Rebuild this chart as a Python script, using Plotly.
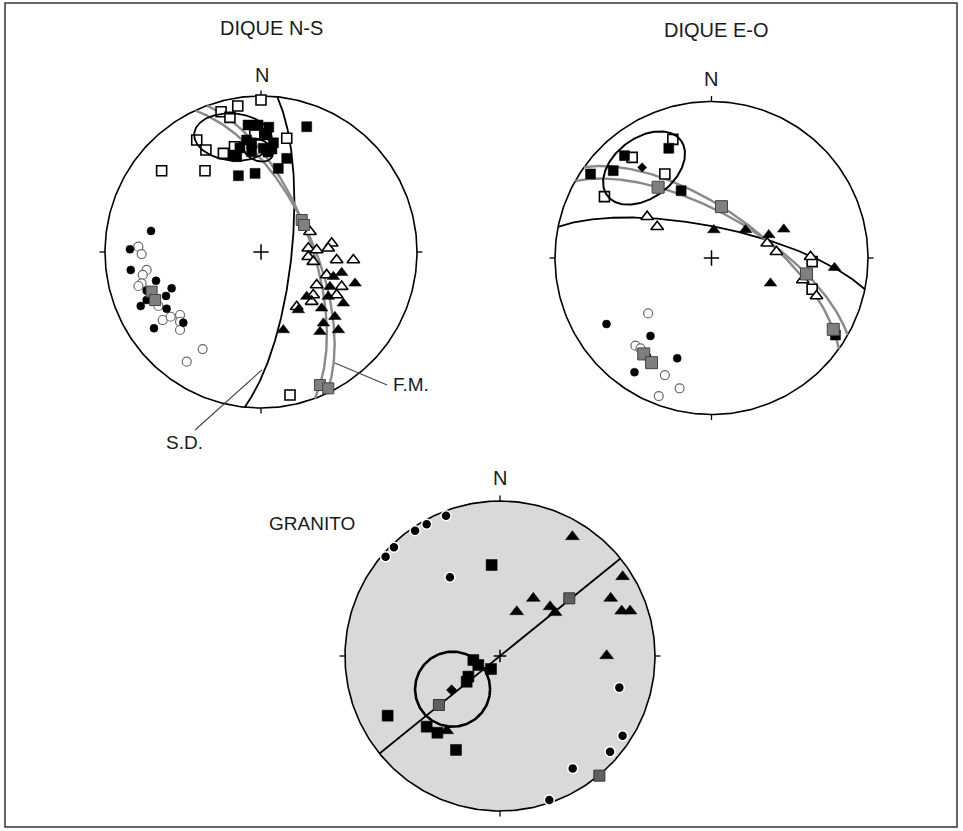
import numpy as np
import plotly.graph_objects as go

W, H = 963, 831

# ---------------- DATA (projected equal-area coordinates, unit primitive) ----------------
# DIQUE N-S
ns_open_sq_x = [0.0, -0.149, -0.256, -0.199, -0.412, -0.353, -0.241, -0.637, -0.359, 0.165, -0.038, 0.186, -0.154, -0.028, -0.04, -0.17]
ns_open_sq_y = [0.974, 0.936, 0.899, 0.863, 0.718, 0.654, 0.632, 0.521, 0.521, 0.729, 0.795, -0.917, 0.673, 0.803, 0.75, 0.675]
ns_fill_sq_x = [0.293, -0.145, -0.038, 0.165, 0.111, -0.019, 0.026, -0.083, 0.036, -0.177, 0.015, -0.06, -0.092, 0.045, -0.135, -0.06, 0.05, -0.156, 0.08, 0.07]
ns_fill_sq_y = [0.803, 0.489, 0.504, 0.600, 0.536, 0.814, 0.763, 0.814, 0.75, 0.622, 0.665, 0.697, 0.718, 0.641, 0.667, 0.643, 0.80, 0.611, 0.70, 0.66]
ns_gray_sq_x = [0.261, 0.276, 0.378, 0.431, -0.701, -0.679]
ns_gray_sq_y = [0.205, 0.173, -0.853, -0.874, -0.254, -0.308]
ns_open_tri_x = [0.314, 0.303, 0.357, 0.453, 0.431, 0.303, 0.335, 0.485, 0.592, 0.421, 0.357, 0.517, 0.485, 0.335, 0.325, 0.229]
ns_open_tri_y = [0.130, 0.024, 0.013, 0.056, 0.024, -0.030, -0.062, -0.051, -0.051, -0.147, -0.212, -0.222, -0.276, -0.276, -0.318, -0.351]
ns_fill_tri_x = [0.517, 0.464, 0.603, 0.442, 0.293, 0.528, 0.389, 0.239, 0.474, 0.400, 0.378, 0.496, 0.143, 0.431]
ns_fill_tri_y = [-0.133, -0.158, -0.201, -0.222, -0.286, -0.329, -0.361, -0.372, -0.415, -0.457, -0.511, -0.500, -0.500, -0.286]
ns_fill_circ_x = [-0.705, -0.840, -0.835, -0.673, -0.573, -0.733, -0.733, -0.609, -0.771, -0.605, -0.498, -0.686]
ns_fill_circ_y = [0.135, 0.017, -0.115, -0.184, -0.233, -0.248, -0.308, -0.282, -0.346, -0.363, -0.453, -0.489]
ns_open_circ_x = [-0.786, -0.765, -0.733, -0.758, -0.765, -0.786, -0.658, -0.630, -0.579, -0.519, -0.519, -0.519, -0.374, -0.476]
ns_open_circ_y = [0.034, -0.013, -0.115, -0.147, -0.201, -0.218, -0.346, -0.436, -0.415, -0.404, -0.447, -0.500, -0.622, -0.703]
# planes (strike, dip)
ns_sd_plane = (6, 74)
ns_fm_planes = [(335.1, 63.4), (339.8, 63.9)]
# confidence ellipses: centre x, centre y, semi-major, semi-minor, rotation (deg)
ns_ell_cx = [-0.179, -0.019]
ns_ell_cy = [0.737, 0.654]
ns_ell_a = [0.250, 0.100]
ns_ell_b = [0.151, 0.068]
ns_ell_rot = [-5, -25]

# DIQUE E-O
eo_open_sq_x = [-0.247, -0.507, -0.298, -0.684, 0.643, 0.643]
eo_open_sq_y = [0.758, 0.643, 0.537, 0.392, -0.023, -0.200]
eo_fill_sq_x = [-0.273, -0.556, -0.773, -0.628, -0.194, 0.792]
eo_fill_sq_y = [0.701, 0.654, 0.537, 0.558, 0.430, -0.492]
eo_gray_sq_x = [-0.341, 0.064, 0.607, 0.778, -0.433, -0.383]
eo_gray_sq_y = [0.452, 0.328, -0.102, -0.456, -0.613, -0.669]
eo_open_tri_x = [-0.347, -0.411, 0.356, 0.415, 0.633, 0.583, 0.671]
eo_open_tri_y = [0.200, 0.264, 0.094, 0.040, 0.008, -0.141, -0.243]
eo_fill_tri_x = [0.015, 0.217, 0.366, 0.462, 0.786, 0.377]
eo_fill_tri_y = [0.179, 0.179, 0.147, 0.183, -0.062, -0.162]
eo_fill_circ_x = [-0.671, -0.390, -0.219, -0.492, -0.411]
eo_fill_circ_y = [-0.422, -0.498, -0.641, -0.730, -0.631]
eo_open_circ_x = [-0.405, -0.486, -0.298, -0.204, -0.337, -0.454]
eo_open_circ_y = [-0.354, -0.560, -0.748, -0.833, -0.882, -0.577]
eo_mean_x = [-0.443]
eo_mean_y = [0.579]
eo_black_plane = (281.5, 73.7)
eo_fm_planes = [(305.5, 64.8), (299.5, 66.7)]
eo_ell_cx = [-0.431]
eo_ell_cy = [0.575]
eo_ell_a = [0.294]
eo_ell_b = [0.192]
eo_ell_rot = [37]

# GRANITO
gr_circ_x = [-0.348, -0.473, -0.548, -0.684, -0.738, -0.323, 0.770, 0.791, 0.710, 0.469, 0.318]
gr_circ_y = [0.905, 0.850, 0.808, 0.701, 0.641, 0.508, -0.204, -0.514, -0.617, -0.725, -0.929]
gr_sq_x = [-0.054, -0.725, -0.473, -0.404, -0.284, -0.172, -0.140, -0.058, -0.204, -0.215]
gr_sq_y = [0.587, -0.385, -0.456, -0.495, -0.606, -0.026, -0.058, -0.084, -0.133, -0.166]
gr_gray_sq_x = [0.447, 0.641, -0.394]
gr_gray_sq_y = [0.372, -0.772, -0.316]
gr_tri_x = [0.467, 0.791, 0.215, 0.108, 0.323, 0.355, 0.714, 0.785, 0.839, 0.688, -0.344]
gr_tri_y = [0.770, 0.512, 0.372, 0.286, 0.318, 0.280, 0.372, 0.290, 0.290, 0.002, -0.482]
gr_mean_x = [-0.312]
gr_mean_y = [-0.219]
gr_plane = (51, 90)
gr_ell_cx = [-0.306]
gr_ell_cy = [-0.214]
gr_ell_a = [0.242]
gr_ell_b = [0.242]
gr_ell_rot = [0]

# ---------------- geometry helpers ----------------
def proj(v):
    d = np.clip(v[:, 2], -0.999, 1)
    s = 1.0 / np.sqrt(1.0 + d)
    return v[:, 0] * s, v[:, 1] * s

def great_circle(strike, dip, n=241):
    s = np.radians(strike); dd = np.radians(strike + 90); dp = np.radians(dip)
    t = np.linspace(0, np.pi, n)
    sv = np.array([np.sin(s), np.cos(s), 0.0])
    dv = np.array([np.cos(dp) * np.sin(dd), np.cos(dp) * np.cos(dd), np.sin(dp)])
    v = np.outer(np.cos(t), sv) + np.outer(np.sin(t), dv)
    return proj(v)

def ellipse(cx, cy, a, b, rot, n=181):
    t = np.linspace(0, 2 * np.pi, n)
    r = np.radians(rot)
    ex, ey = a * np.cos(t), b * np.sin(t)
    return cx + ex * np.cos(r) - ey * np.sin(r), cy + ex * np.sin(r) + ey * np.cos(r)

tt = np.linspace(0, 2 * np.pi, 361)
prim_x, prim_y = np.sin(tt), np.cos(tt)
tick_x = [0, 0, None, 1, 1.035, None, 0, 0, None, -1, -1.035]
tick_y = [1, 1.035, None, 0, 0, None, -1, -1.035, None, 0, 0]

fig = go.Figure()

def ax(i):
    return ("x" if i == 1 else f"x{i}"), ("y" if i == 1 else f"y{i}")

def add(i, **kw):
    xa, ya = ax(i)
    fig.add_trace(go.Scatter(xaxis=xa, yaxis=ya, showlegend=False, hoverinfo="skip", cliponaxis=False, **kw))

def line(i, x, y, color="black", width=1.6):
    add(i, x=x, y=y, mode="lines", line=dict(color=color, width=width))

def pts(i, x, y, symbol, fill, edge, size, ew=1.3):
    add(i, x=x, y=y, mode="markers",
        marker=dict(symbol=symbol, color=fill, size=size, line=dict(color=edge, width=ew)))

def ellipses(i, cxs, cys, As, Bs, rots, width):
    for cx, cy, a, b, r in zip(cxs, cys, As, Bs, rots):
        x, y = ellipse(cx, cy, a, b, r)
        line(i, x, y, width=width)

GRAY_LINE = "#8a8a8a"
GRAY_SQ = "#7f7f7f"

# ---------- Stereonet 1 : DIQUE N-S ----------
line(1, prim_x, prim_y, width=1.6)
line(1, tick_x, tick_y, width=1.3)
x, y = great_circle(*ns_sd_plane); line(1, x, y, width=1.8)
for p in ns_fm_planes:
    x, y = great_circle(*p); line(1, x, y, color=GRAY_LINE, width=2.4)
pts(1, ns_open_circ_x, ns_open_circ_y, "circle", "white", "#6a6a6a", 9, 1.2)
pts(1, ns_fill_circ_x, ns_fill_circ_y, "circle", "black", "black", 8, 0.5)
pts(1, ns_open_sq_x, ns_open_sq_y, "square", "white", "black", 10, 1.6)
pts(1, ns_fill_sq_x, ns_fill_sq_y, "square", "black", "black", 10, 0.5)
pts(1, ns_open_tri_x, ns_open_tri_y, "triangle-up", "white", "black", 11, 1.6)
pts(1, ns_fill_tri_x, ns_fill_tri_y, "triangle-up", "black", "black", 11, 0.5)
ellipses(1, ns_ell_cx, ns_ell_cy, ns_ell_a, ns_ell_b, ns_ell_rot, 1.8)
pts(1, ns_gray_sq_x, ns_gray_sq_y, "square", GRAY_SQ, "#444", 11, 1)
pts(1, [0], [0], "cross-thin", "black", "black", 11, 1.5)

# ---------- Stereonet 2 : DIQUE E-O ----------
line(2, prim_x, prim_y, width=1.6)
line(2, tick_x, tick_y, width=1.3)
x, y = great_circle(*eo_black_plane); line(2, x, y, width=1.8)
for p in eo_fm_planes:
    x, y = great_circle(*p); line(2, x, y, color=GRAY_LINE, width=2.4)
pts(2, eo_open_circ_x, eo_open_circ_y, "circle", "white", "#6a6a6a", 9, 1.2)
pts(2, eo_fill_circ_x, eo_fill_circ_y, "circle", "black", "black", 8, 0.5)
pts(2, eo_open_sq_x, eo_open_sq_y, "square", "white", "black", 10, 1.6)
pts(2, eo_fill_sq_x, eo_fill_sq_y, "square", "black", "black", 10, 0.5)
pts(2, eo_open_tri_x, eo_open_tri_y, "triangle-up", "white", "black", 11, 1.6)
pts(2, eo_fill_tri_x, eo_fill_tri_y, "triangle-up", "black", "black", 11, 0.5)
ellipses(2, eo_ell_cx, eo_ell_cy, eo_ell_a, eo_ell_b, eo_ell_rot, 2)
pts(2, eo_gray_sq_x, eo_gray_sq_y, "square", GRAY_SQ, "#444", 12, 1)
pts(2, eo_mean_x, eo_mean_y, "diamond", "black", "black", 7, 0.5)
pts(2, [0], [0], "cross-thin", "black", "black", 11, 1.5)

# ---------- Stereonet 3 : GRANITO ----------
add(3, x=prim_x, y=prim_y, mode="lines", fill="toself", fillcolor="#d9d9d9",
    line=dict(color="black", width=1.6))
line(3, tick_x, tick_y, width=1.3)
x, y = great_circle(*gr_plane); line(3, x, y, width=1.8)
pts(3, gr_tri_x, gr_tri_y, "triangle-up", "black", "black", 12, 0.5)
pts(3, gr_sq_x, gr_sq_y, "square", "black", "black", 11, 0.5)
pts(3, gr_circ_x, gr_circ_y, "circle", "black", "white", 10, 1.5)
ellipses(3, gr_ell_cx, gr_ell_cy, gr_ell_a, gr_ell_b, gr_ell_rot, 2.6)
pts(3, gr_gray_sq_x, gr_gray_sq_y, "square", "#5f5f5f", "#333", 11, 1)
pts(3, gr_mean_x, gr_mean_y, "diamond", "black", "black", 8, 0.5)
pts(3, [0], [0], "cross-thin", "black", "black", 9, 1.5)

# ---------- leader lines ----------
line(1, [-0.423, 0.006], [-1.141, -0.756], color="#444", width=1.1)
line(1, [0.474, 0.808], [-0.712, -0.853], color="#444", width=1.1)

# ---------- axes layout ----------
def setup(i, cx, cy, R, x0, x1, y0, y1):
    xa = "xaxis" if i == 1 else f"xaxis{i}"
    ya = "yaxis" if i == 1 else f"yaxis{i}"
    fig.update_layout(**{
        xa: dict(domain=[x0 / W, x1 / W], range=[(x0 - cx) / R, (x1 - cx) / R], visible=False),
        ya: dict(domain=[1 - y1 / H, 1 - y0 / H], range=[(cy - y1) / R, (cy - y0) / R], visible=False),
    })

setup(1, 261, 252, 156, 40, 485, 45, 470)
setup(2, 711.5, 258, 156.5, 490, 950, 45, 470)
setup(3, 500, 656, 155, 300, 700, 475, 831)

def label(text, px, py, size=19):
    fig.add_annotation(x=px / W, y=1 - py / H, xref="paper", yref="paper", text=text,
                       showarrow=False, xanchor="center", yanchor="middle",
                       font=dict(family="Liberation Sans, Arial, sans-serif", size=size, color="#1a1a1a"))

label("DIQUE N-S", 271, 28, 20)
label("DIQUE E-O", 716, 30, 20)
label("N", 262, 75, 20)
label("N", 711, 79, 20)
label("N", 500, 478, 20)
label("GRANITO", 312, 523)
label("S.D.", 184, 443)
label("F.M.", 411, 384)

fig.add_shape(type="rect", xref="paper", yref="paper", x0=5 / W, x1=957 / W, y0=1 - 827 / H, y1=1 - 3 / H,
              line=dict(color="#333", width=1.5))

fig.update_layout(width=W, height=H, margin=dict(l=0, r=0, t=0, b=0),
                  paper_bgcolor="white", plot_bgcolor="rgba(0,0,0,0)", showlegend=False)

fig.write_html("out.html", config={"displayModeBar": False, "staticPlot": True},
               post_script="document.body.style.margin='0px';document.body.style.overflow='hidden';")
